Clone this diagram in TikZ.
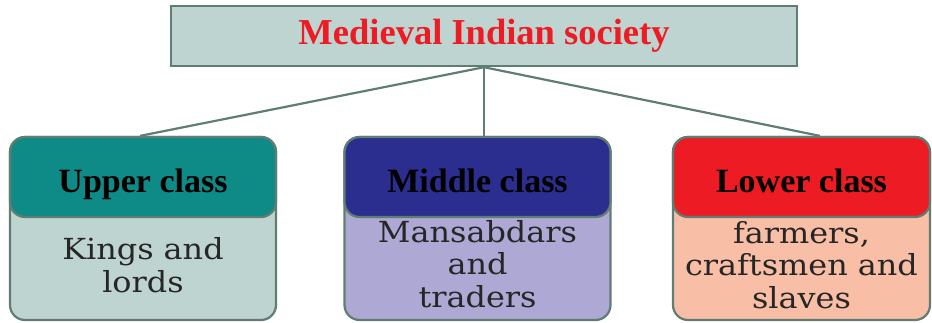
\documentclass[tikz,border=0pt]{standalone}
\usepackage{fontspec}
\setmainfont{Liberation Serif}
\newfontfamily\bodyfont[FakeStretch=1.1]{DejaVu Serif}
\definecolor{edge}{RGB}{95,125,115}
\definecolor{topfill}{RGB}{190,212,209}
\definecolor{upperhd}{RGB}{14,138,135}
\definecolor{upperbd}{RGB}{190,212,209}
\definecolor{middlehd}{RGB}{43,46,143}
\definecolor{middlebd}{RGB}{173,168,212}
\definecolor{lowerhd}{RGB}{237,28,36}
\definecolor{lowerbd}{RGB}{249,190,166}
\definecolor{titlered}{RGB}{237,28,36}
\tikzset{
  classbody/.style={draw=edge, line width=2.2pt, rounded corners=15pt,
    minimum width=266pt, minimum height=183pt, inner sep=0pt},
  classhead/.style={draw=edge, line width=2.2pt, rounded corners=15pt,
    minimum width=266pt, minimum height=80pt, inner sep=0pt,
    text height=30pt, text depth=0pt,
    font=\fontsize{34}{40}\selectfont\bfseries},
  classtext/.style={align=center, inner sep=0pt, text=black!85,
    font=\bodyfont\fontsize{29}{32.5}\selectfont},
  link/.style={draw=edge, line width=2.2pt}
}
\begin{document}
\begin{tikzpicture}[x=1pt,y=-1pt]
\useasboundingbox (0,0) rectangle (932,322);
\node[draw=edge, line width=2.4pt, fill=topfill, minimum width=626pt, minimum height=60pt,
  inner sep=0pt, text=titlered, font=\fontsize{36.5}{40}\selectfont\bfseries]
  (society) at (484,36) {Medieval Indian society};
% upper class
\node[classbody, fill=upperbd] (upper) at (143,228.5) {};
\node[classhead, fill=upperhd, anchor=north] (upperhead) at (upper.north) {Upper class};
\node[classtext] (upperitems) at (143,265) {Kings and\\lords};
% middle class
\node[classbody, fill=middlebd] (middle) at (477.5,228.5) {};
\node[classhead, fill=middlehd, anchor=north] (middlehead) at (middle.north) {Middle class};
\node[classtext] (middleitems) at (477.5,264) {Mansabdars\\and\\traders};
% lower class
\node[classbody, fill=lowerbd, minimum width=257pt] (lower) at (801.5,228.5) {};
\node[classhead, fill=lowerhd, minimum width=257pt, anchor=north] (lowerhead) at (lower.north) {Lower class};
\node[classtext] (loweritems) at (801.5,265) {farmers,\\craftsmen and\\slaves};
% links
\draw[link] (society.south) -- (upper.north west -| 140,0);
\draw[link] (society.south) -- (society.south |- middle.north);
\draw[link] (society.south) -- (lower.north west -| 820,0);
\end{tikzpicture}
\end{document}
